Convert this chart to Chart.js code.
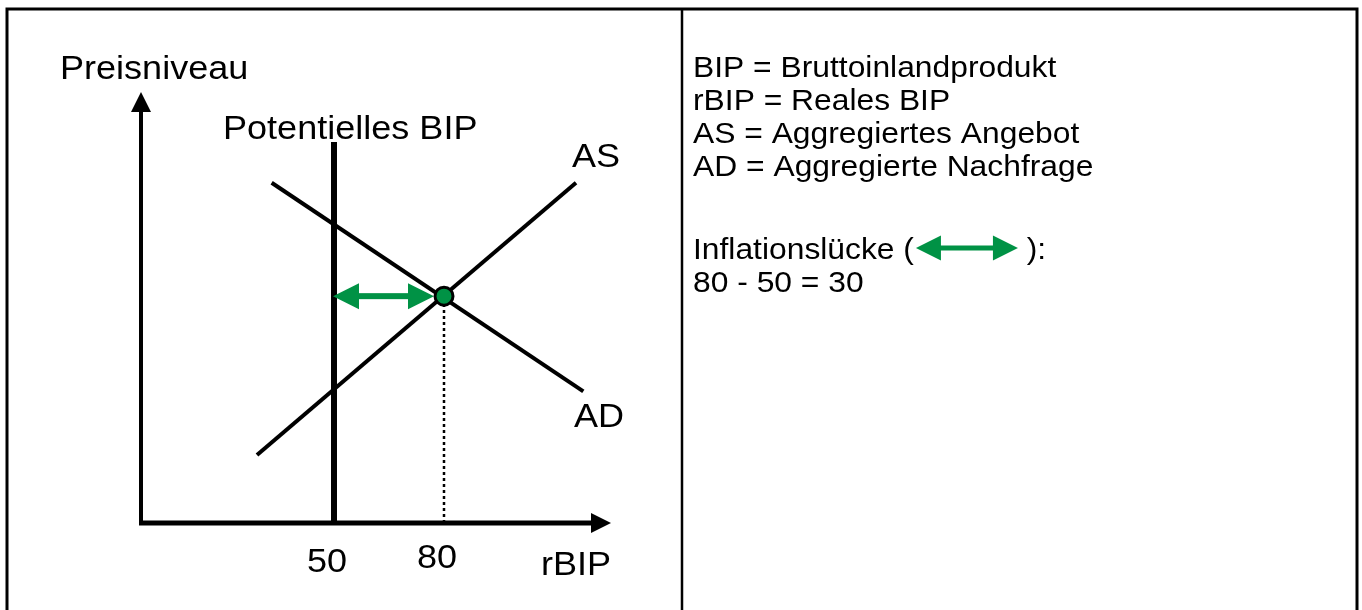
<!DOCTYPE html>
<html>
<head>
<meta charset="utf-8">
<script src="https://cdn.jsdelivr.net/npm/chart.js@4/dist/chart.umd.min.js"></script>
<style>
  html, body { margin: 0; padding: 0; background: #ffffff; }
  #c { display: block; }
</style>
</head>
<body>
<canvas id="c" width="1362" height="610"></canvas>
<script>
// ---------- data ----------
const xTickValues = [50, 80];
const xTickLabels = ['50', '80'];
const yAxisTitle = 'Preisniveau';
const xAxisTitle = 'rBIP';

const adX = [33, 118];          // aggregate demand
const adY = [75, 29];
const asX = [29, 116];          // aggregate supply
const asY = [15, 75];
const potentialX = [50, 50];    // potential GDP
const potentialY = [0, 84];
const equilibriumX = [80];
const equilibriumY = [50];
const gapFrom = 50;             // inflation gap 80 - 50 = 30
const gapTo = 80;

const curveLabels = ['AS', 'AD', 'Potentielles BIP'];
const notesTop = ['BIP = Bruttoinlandprodukt', 'rBIP = Reales BIP', 'AS = Aggregiertes Angebot', 'AD = Aggregierte Nachfrage'];
const notesGapPre = 'Inflationslücke (';
const notesGapPost = ' ):';
const notesGapCalc = '80 - 50 = 30';

const GREEN = '#009245';
const SX = 1.06;
const FONT = '"Liberation Sans", Arial, Helvetica, sans-serif';

function pts(xs, ys) { return xs.map((x, i) => ({ x: x, y: ys[i] })); }

function txt(ctx, s, x, y, size, align) {
  ctx.save();
  ctx.font = size + 'px ' + FONT;
  ctx.fillStyle = '#000';
  ctx.textBaseline = 'alphabetic';
  ctx.textAlign = align || 'left';
  ctx.translate(x, y);
  ctx.scale(SX, 1);
  ctx.fillText(s, 0, 0);
  ctx.restore();
}
function txtWidth(ctx, s, size) {
  ctx.save();
  ctx.font = size + 'px ' + FONT;
  const w = ctx.measureText(s).width * SX;
  ctx.restore();
  return w;
}
function dblArrow(ctx, x1, x2, y, head, half, shaft, color) {
  ctx.save();
  ctx.fillStyle = color;
  ctx.fillRect(x1 + head - 1, y - shaft / 2, (x2 - x1) - 2 * head + 2, shaft);
  ctx.beginPath();
  ctx.moveTo(x1, y); ctx.lineTo(x1 + head, y - half); ctx.lineTo(x1 + head, y + half); ctx.closePath();
  ctx.fill();
  ctx.beginPath();
  ctx.moveTo(x2, y); ctx.lineTo(x2 - head, y - half); ctx.lineTo(x2 - head, y + half); ctx.closePath();
  ctx.fill();
  ctx.restore();
}

const decor = {
  id: 'decor',
  beforeDraw(chart) {
    const ctx = chart.ctx;
    ctx.save();
    ctx.fillStyle = '#fff';
    ctx.fillRect(0, 0, chart.width, chart.height);
    ctx.strokeStyle = '#000';
    ctx.lineWidth = 3;
    ctx.strokeRect(7, 9, 1350, 640);
    ctx.lineWidth = 2.5;
    ctx.beginPath(); ctx.moveTo(682, 9); ctx.lineTo(682, 620); ctx.stroke();
    ctx.restore();

    // axes with arrows
    const a = chart.chartArea;
    ctx.save();
    ctx.fillStyle = '#000';
    ctx.strokeStyle = '#000';
    ctx.lineWidth = 4;
    ctx.beginPath(); ctx.moveTo(a.left, a.bottom + 2); ctx.lineTo(a.left, a.top + 19); ctx.stroke();
    ctx.beginPath(); ctx.moveTo(a.left, a.top); ctx.lineTo(a.left - 10, a.top + 20); ctx.lineTo(a.left + 10, a.top + 20); ctx.closePath(); ctx.fill();
    ctx.lineWidth = 5;
    ctx.beginPath(); ctx.moveTo(a.left - 2, a.bottom); ctx.lineTo(a.right - 18, a.bottom); ctx.stroke();
    ctx.beginPath(); ctx.moveTo(a.right, a.bottom); ctx.lineTo(a.right - 20, a.bottom - 10); ctx.lineTo(a.right - 20, a.bottom + 10); ctx.closePath(); ctx.fill();
    ctx.restore();
  },
  afterDatasetsDraw(chart) {
    const ctx = chart.ctx;
    const xs = chart.scales.x, ys = chart.scales.y;
    const yPix = ys.getPixelForValue(equilibriumY[0]);
    dblArrow(ctx, xs.getPixelForValue(gapFrom) - 1, xs.getPixelForValue(gapTo) - 10, yPix, 26, 13, 6, GREEN);

    txt(ctx, yAxisTitle, 60, 79, 34);
    txt(ctx, xAxisTitle, 541, 575, 34);
    const tickBase = [572, 568];
    xTickValues.forEach((v, i) => {
      txt(ctx, xTickLabels[i], xs.getPixelForValue(v) - 7, tickBase[i], 34, 'center');
    });
    txt(ctx, curveLabels[0], 572, 167, 34);
    txt(ctx, curveLabels[1], 574, 427, 34);
    txt(ctx, curveLabels[2], 223, 139, 34);

    const lx = 693;
    const base = [77, 110, 143, 176];
    notesTop.forEach((s, i) => txt(ctx, s, lx, base[i], 30));
    txt(ctx, notesGapPre, lx, 259, 30);
    const w = txtWidth(ctx, notesGapPre, 30);
    const ax1 = lx + w + 2, ax2 = ax1 + 102;
    dblArrow(ctx, ax1, ax2, 248, 25, 12.5, 5, GREEN);
    txt(ctx, notesGapPost, ax2, 259, 30);
    txt(ctx, notesGapCalc, lx, 292, 30);
  }
};

new Chart(document.getElementById('c'), {
  type: 'scatter',
  data: {
    datasets: [
      { label: 'Gleichgewicht', data: pts(equilibriumX, equilibriumY), pointRadius: 9, pointHoverRadius: 9,
        pointBackgroundColor: GREEN, pointBorderColor: '#000', pointBorderWidth: 3, showLine: false },
      { label: 'AS', data: pts(asX, asY), showLine: true, borderColor: '#000', borderWidth: 4, pointRadius: 0, fill: false },
      { label: 'AD', data: pts(adX, adY), showLine: true, borderColor: '#000', borderWidth: 4, pointRadius: 0, fill: false },
      { label: 'Potentielles BIP', data: pts(potentialX, potentialY), showLine: true, borderColor: '#000', borderWidth: 6, pointRadius: 0, fill: false },
      { label: 'Referenz', data: pts([equilibriumX[0], equilibriumX[0]], [0, equilibriumY[0]]), showLine: true,
        borderColor: '#000', borderWidth: 2.5, borderDash: [3, 3], pointRadius: 0, fill: false }
    ]
  },
  options: {
    responsive: false,
    animation: false,
    devicePixelRatio: 1,
    layout: { padding: { left: 141, right: 751, top: 92, bottom: 87 } },
    plugins: { legend: { display: false }, tooltip: { enabled: false } },
    events: [],
    scales: {
      x: { type: 'linear', min: -2.636, max: 125.545, display: false },
      y: { type: 'linear', min: 0, max: 95, display: false }
    }
  },
  plugins: [decor]
});
</script>
</body>
</html>
